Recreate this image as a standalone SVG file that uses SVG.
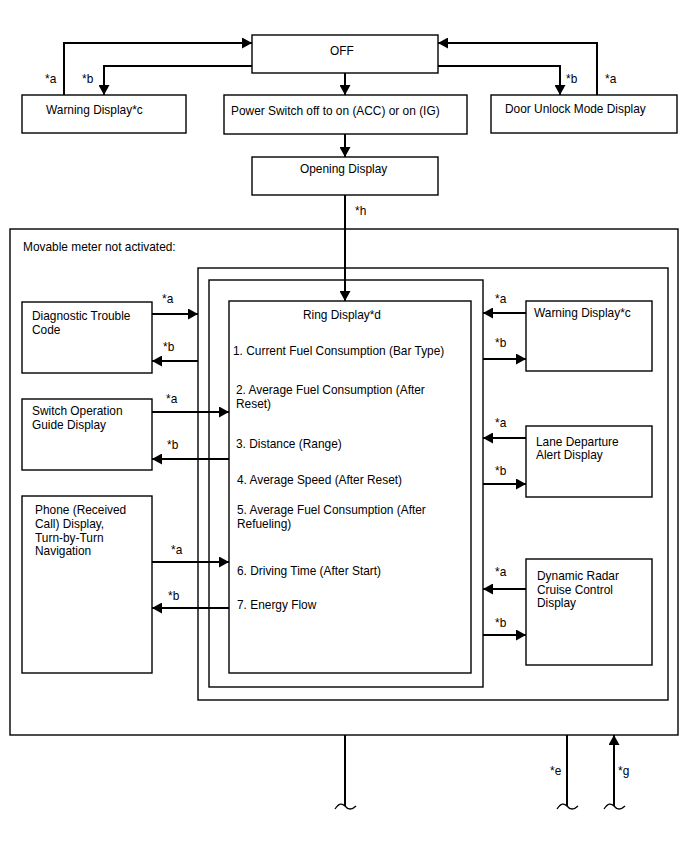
<svg xmlns="http://www.w3.org/2000/svg" width="688" height="852" viewBox="0 0 688 852">
<defs>
<marker id="ah" markerUnits="userSpaceOnUse" markerWidth="11" markerHeight="11" refX="10" refY="5.5" orient="auto">
<path d="M0,0 L10,5.5 L0,11 z" fill="#000"/>
</marker>
<style>
.box{fill:#fff;stroke:#000;stroke-width:1.4}
.frame{fill:none;stroke:#000;stroke-width:1.4}
.c{fill:none;stroke:#000;stroke-width:2}
.a{marker-end:url(#ah)}
text{font-family:"Liberation Sans",Arial,sans-serif;font-size:11.9px;fill:#000}
</style>
</defs>
<rect width="688" height="852" fill="#fff"/>
<g id="outer"><rect class="frame" x="10" y="229" width="668" height="506"/><text x="23" y="251">Movable meter not activated:</text></g>
<g id="frame2"><rect class="frame" x="198" y="268" width="470" height="432"/></g>
<g id="frame3"><rect class="frame" x="209" y="280" width="274" height="407"/></g>
<g id="off"><rect class="box" x="252" y="35" width="186" height="38"/><text x="330" y="55">OFF</text></g>
<g id="warning-top"><rect class="box" x="22" y="95" width="164" height="38"/><text x="46" y="114">Warning Display*c</text></g>
<g id="power"><rect class="box" x="224" y="95" width="243" height="39"/><text x="231" y="115">Power Switch off to on (ACC) or on (IG)</text></g>
<g id="door"><rect class="box" x="491" y="95" width="186" height="38"/><text x="505" y="113">Door Unlock Mode Display</text></g>
<g id="opening"><rect class="box" x="252" y="157" width="186" height="38"/><text x="300" y="173">Opening Display</text></g>
<g id="ring"><rect class="box" x="229" y="301" width="242" height="372"/>
<text x="303" y="319">Ring Display*d</text>
<text x="233" y="355">1. Current Fuel Consumption (Bar Type)</text>
<text x="236" y="394">2. Average Fuel Consumption (After</text>
<text x="236" y="408">Reset)</text>
<text x="236" y="448">3. Distance (Range)</text>
<text x="237" y="484">4. Average Speed (After Reset)</text>
<text x="237" y="514">5. Average Fuel Consumption (After</text>
<text x="237" y="528">Refueling)</text>
<text x="237" y="575">6. Driving Time (After Start)</text>
<text x="237" y="609">7. Energy Flow</text>
</g>
<g id="diag"><rect class="box" x="22" y="302" width="130" height="71"/><text x="32" y="320">Diagnostic Trouble</text><text x="32" y="334">Code</text></g>
<g id="switchop"><rect class="box" x="22" y="399" width="130" height="71"/><text x="32" y="415">Switch Operation</text><text x="32" y="429">Guide Display</text></g>
<g id="phone"><rect class="box" x="22" y="496" width="130" height="177"/><text x="35" y="514">Phone (Received</text><text x="35" y="528">Call) Display,</text><text x="35" y="542">Turn-by-Turn</text><text x="35" y="555">Navigation</text></g>
<g id="warning-right"><rect class="box" x="526" y="301" width="126" height="70"/><text x="534" y="317">Warning Display*c</text></g>
<g id="lane"><rect class="box" x="526" y="426" width="126" height="71"/><text x="536" y="446">Lane Departure</text><text x="536" y="459">Alert Display</text></g>
<g id="radar"><rect class="box" x="526" y="559" width="126" height="106"/><text x="537" y="580">Dynamic Radar</text><text x="537" y="594">Cruise Control</text><text x="537" y="607">Display</text></g>
<g id="connectors">
<path class="c a" d="M64,95 V43 H252"/>
<path class="c a" d="M252,66 H104 V95"/>
<path class="c a" d="M438,66 H560 V95"/>
<path class="c a" d="M597,95 V43 H438"/>
<path class="c a" d="M345,73 V95"/>
<path class="c a" d="M345,134 V157"/>
<path class="c a" d="M345,195 V301"/>
<path class="c a" d="M152,314 H198"/>
<path class="c a" d="M198,361 H152"/>
<path class="c a" d="M152,412 H229"/>
<path class="c a" d="M229,459 H152"/>
<path class="c a" d="M152,562 H229"/>
<path class="c a" d="M229,608 H152"/>
<path class="c a" d="M526,313 H483"/>
<path class="c a" d="M483,359 H526"/>
<path class="c a" d="M526,438 H483"/>
<path class="c a" d="M483,484 H526"/>
<path class="c a" d="M526,589 H483"/>
<path class="c a" d="M483,635 H526"/>
<path class="c" d="M345,735 V806"/>
<path class="c" d="M567,735 V806"/>
<path class="c a" d="M614,806 V735"/>
<path fill="none" stroke="#000" stroke-width="1.3" d="M335,809 C339,803 342,803 345,806 C348,810 352,810 356,806"/>
<path fill="none" stroke="#000" stroke-width="1.3" d="M557,809 C561,803 564,803 567,806 C570,810 574,810 578,806"/>
<path fill="none" stroke="#000" stroke-width="1.3" d="M604,809 C608,803 611,803 614,806 C617,810 621,810 625,806"/>
<text x="45" y="83">*a</text>
<text x="82" y="83">*b</text>
<text x="566" y="83">*b</text>
<text x="605" y="83">*a</text>
<text x="355" y="215">*h</text>
<text x="162" y="303">*a</text>
<text x="163" y="351">*b</text>
<text x="166" y="403">*a</text>
<text x="167" y="449">*b</text>
<text x="171" y="554">*a</text>
<text x="168" y="600">*b</text>
<text x="495" y="303">*a</text>
<text x="495" y="347">*b</text>
<text x="495" y="427">*a</text>
<text x="495" y="475">*b</text>
<text x="495" y="576">*a</text>
<text x="495" y="627">*b</text>
<text x="550" y="775">*e</text>
<text x="618" y="775">*g</text>
</g>
</svg>
